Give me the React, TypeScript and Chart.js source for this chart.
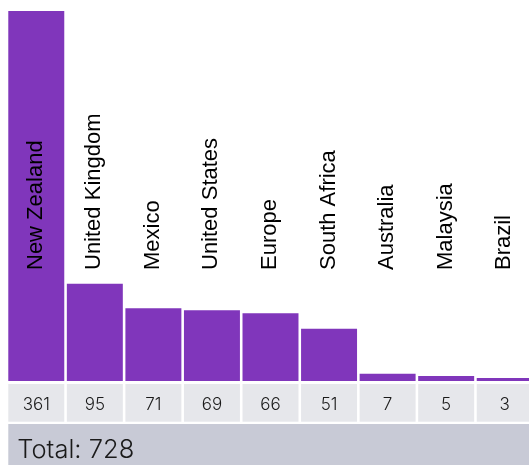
import React, { useEffect, useRef } from "react";
import { Chart, registerables } from "chart.js";

Chart.register(...registerables);

const categories = [
  "New Zealand",
  "United Kingdom",
  "Mexico",
  "United States",
  "Europe",
  "South Africa",
  "Australia",
  "Malaysia",
  "Brazil",
];
const values = [361, 95, 71, 69, 66, 51, 7, 5, 3];
const totalLabel = "Total";

const BAR_COLOR = "#8036BB";
const CELL_COLOR = "#E6E7EB";
const TOTAL_COLOR = "#C8CAD6";
const TEXT_COLOR = "#1a1a1a";

const tablePlugin = {
  id: "tablePlugin",
  afterDatasetsDraw(chart: any) {
    const { ctx, chartArea, height } = chart;
    const meta = chart.getDatasetMeta(0);
    const bottom = chartArea.bottom;
    ctx.save();
    // category labels (rotated)
    ctx.fillStyle = "#000";
    ctx.font = '22px "Liberation Sans", Arial, sans-serif';
    ctx.textAlign = "left";
    ctx.textBaseline = "alphabetic";
    meta.data.forEach((el: any, i: number) => {
      ctx.save();
      ctx.translate(el.x + 5.5, bottom - 111);
      ctx.rotate(-Math.PI / 2);
      ctx.fillText(categories[i], 0, 0);
      ctx.restore();
    });
    // value cells
    const cellTop = bottom + 3;
    const cellBottom = bottom + 40.7;
    ctx.font = '300 17px Inter, "Noto Sans", sans-serif';
    ctx.textAlign = "center";
    meta.data.forEach((el: any, i: number) => {
      const w = el.width;
      ctx.fillStyle = CELL_COLOR;
      ctx.fillRect(el.x - w / 2, cellTop, w, cellBottom - cellTop);
      ctx.fillStyle = TEXT_COLOR;
      ctx.textBaseline = "alphabetic";
      ctx.fillText(String(values[i]), el.x, cellTop + 26.3);
    });
    // total row
    const first: any = meta.data[0];
    const left = first.x - first.width / 2;
    const totalTop = bottom + 43;
    ctx.fillStyle = TOTAL_COLOR;
    ctx.fillRect(left, totalTop, chart.width - left, height - totalTop);
    const total = values.reduce((a, b) => a + b, 0);
    ctx.fillStyle = TEXT_COLOR;
    ctx.font = '300 25.5px Inter, "Noto Sans", sans-serif';
    ctx.textAlign = "left";
    ctx.fillText(`${totalLabel}: ${total}`, left + 9, totalTop + 33.5);
    ctx.restore();
  },
};

export default function App() {
  const ref = useRef<HTMLCanvasElement | null>(null);
  useEffect(() => {
    document.documentElement.style.overflow = "hidden";
    document.body.style.overflow = "hidden";
    const canvas = ref.current!;
    const chart = new Chart(canvas, {
      type: "bar",
      data: {
        labels: categories,
        datasets: [
          {
            data: values,
            backgroundColor: BAR_COLOR,
            barPercentage: 0.956,
            categoryPercentage: 1,
          },
        ],
      },
      options: {
        responsive: false,
        animation: false,
        devicePixelRatio: 1,
        layout: { padding: { top: 3, bottom: 84, left: 0, right: 0 } },
        plugins: { legend: { display: false }, tooltip: { enabled: false } },
        scales: {
          x: { display: false },
          y: { display: false, min: 0, max: 361 },
        },
      },
      plugins: [tablePlugin],
    });
    return () => chart.destroy();
  }, []);
  return (
    <div
      style={{
        position: "absolute",
        left: 7,
        top: 8,
        width: 522,
        height: 457,
        overflow: "hidden",
      }}
    >
      <canvas ref={ref} width={527} height={457} style={{ display: "block" }} />
    </div>
  );
}
